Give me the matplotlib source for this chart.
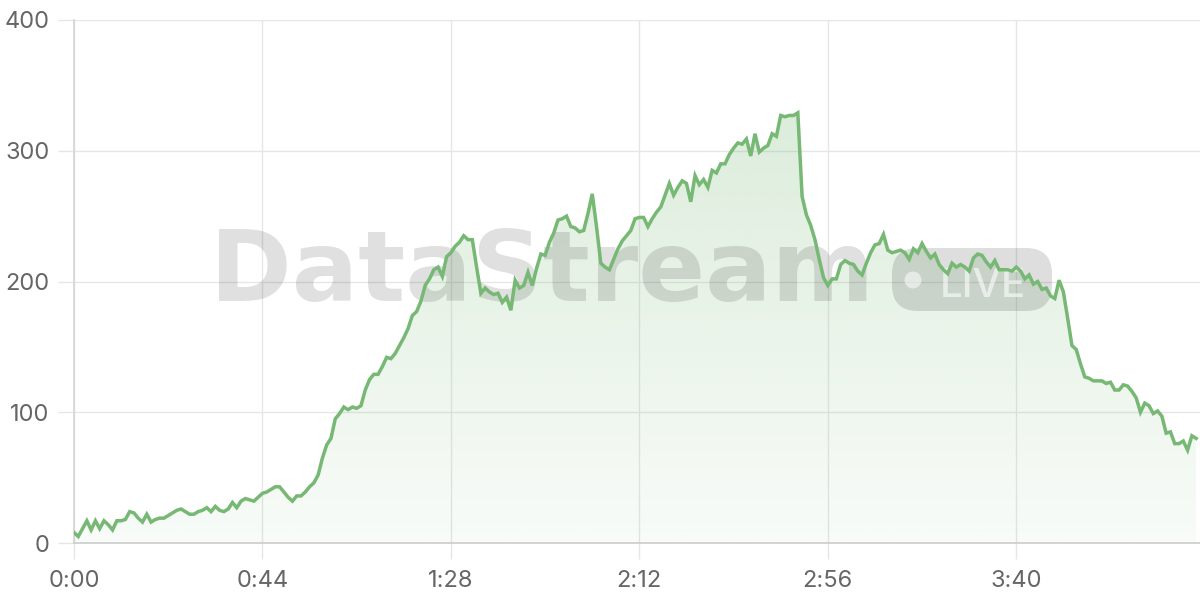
import numpy as np
import matplotlib
matplotlib.use("Agg")
import matplotlib.pyplot as plt
from matplotlib.patches import FancyBboxPatch, Circle
from matplotlib.ticker import FuncFormatter

# ---- data (seconds, value) ----
values = [
    8, 5, 11, 17, 10, 17, 11, 17, 14, 10,
    17, 17, 18, 24, 23, 19, 16, 22, 16, 18,
    19, 19, 21, 23, 25, 26, 24, 22, 22, 24,
    25, 27, 24, 28, 25, 24, 26, 31, 27, 32,
    34, 33, 32, 35, 38, 39, 41, 43, 43, 39,
    35, 32, 36, 36, 39, 43, 46, 52, 65, 75,
    80, 95, 99, 104, 102, 104, 103, 105, 117, 125,
    129, 129, 135, 142, 141, 145, 151, 157, 164, 174,
    177, 185, 197, 202, 209, 211, 204, 219, 222, 227,
    230, 235, 232, 232, 211, 191, 195, 192, 190, 191,
    184, 188, 178, 201, 195, 197, 207, 197, 210, 221,
    220, 230, 237, 247, 248, 250, 242, 241, 238, 239,
    252, 267, 242, 214, 211, 209, 217, 225, 231, 235,
    239, 248, 249, 249, 242, 248, 253, 257, 266, 275,
    266, 272, 277, 275, 261, 281, 274, 278, 272, 285,
    283, 290, 290, 297, 302, 306, 305, 309, 296, 313,
    299, 302, 304, 313, 311, 327, 326, 327, 327, 329,
    265, 251, 243, 232, 217, 203, 197, 202, 202, 213,
    216, 214, 213, 208, 205, 214, 222, 228, 229, 236,
    224, 222, 223, 224, 222, 217, 225, 222, 229, 223,
    218, 221, 213, 209, 206, 214, 211, 213, 211, 208,
    218, 221, 220, 215, 211, 216, 209, 209, 209, 208,
    211, 208, 202, 205, 198, 200, 194, 195, 189, 187,
    201, 192, 172, 151, 148, 137, 127, 126, 124, 124,
    124, 122, 123, 117, 117, 121, 120, 116, 111, 100,
    107, 105, 99, 101, 97, 84, 85, 76, 76, 78,
    71, 82, 80,
]
seconds = list(range(len(values)))
x_ticks = [0, 44, 88, 132, 176, 220]
y_ticks = [0, 100, 200, 300, 400]

LINE = "#76b874"
GRID = "#e6e6e6"
TEXT = "#666666"

plt.rcParams["font.family"] = ["Inter", "DejaVu Sans"]

fig = plt.figure(figsize=(12, 6), dpi=100)
ax = fig.add_axes([74 / 1200, 57 / 600, (1200 - 74) / 1200, (543 - 20) / 600])
ax.set_xlim(0, 262.9)
ax.set_ylim(0, 400)

# gradient fill clipped to area under line
fill = ax.fill_between(seconds, values, 0, color="none", lw=0)
grad = np.zeros((256, 1, 4))
rgb = np.array([118, 184, 116]) / 255.0
grad[:, 0, :3] = rgb
grad[:, 0, 3] = np.linspace(0.05, 0.30, 256)
im = ax.imshow(grad, extent=[0, 262.9, 0, 400], origin="lower", aspect="auto",
               interpolation="bilinear", zorder=1)
im.set_clip_path(fill.get_paths()[0], transform=ax.transData)

ax.plot(seconds, values, color=LINE, lw=2.5, zorder=5, solid_joinstyle="miter")

# axes styling
ax.set_xticks(x_ticks)
ax.set_yticks(y_ticks)
ax.xaxis.set_major_formatter(FuncFormatter(lambda v, p: f"{int(v) // 60}:{int(v) % 60:02d}"))
ax.grid(True, color=GRID, lw=1, zorder=0)
ax.set_axisbelow(True)
for s in ["top", "right"]:
    ax.spines[s].set_visible(False)
ax.spines["left"].set_color("#d4d4d4")
ax.spines["bottom"].set_color("#cccccc")
ax.spines["left"].set_linewidth(1.2)
ax.spines["bottom"].set_linewidth(1.2)
ax.tick_params(axis="both", direction="out", length=11.5, width=1, color=GRID,
               labelcolor=TEXT, labelsize=17)
ax.tick_params(axis="y", pad=6)
ax.tick_params(axis="x", pad=8)

# watermark
tr = fig.dpi_scale_trans
WM = (0.0, 0.0, 0.0)
wm = ax.text(2.10, 2.99, "DataStream", transform=tr, ha="left", va="baseline",
             fontsize=70, fontweight="bold", family=["DejaVu Sans"],
             color=WM, alpha=0.12, zorder=3, clip_on=False)
pill = FancyBboxPatch((8.92, 2.89), 1.60, 0.63,
                      boxstyle="round,pad=0,rounding_size=0.26",
                      transform=tr, facecolor=WM, alpha=0.13,
                      edgecolor="none", zorder=3, clip_on=False)
ax.add_patch(pill)
dot = Circle((9.13, 3.20), 0.085, transform=tr, facecolor="white", alpha=0.55,
             edgecolor="none", zorder=3.5, clip_on=False)
ax.add_patch(dot)
live = ax.text(9.40, 3.03, "LIVE", transform=tr, ha="left", va="baseline",
               fontsize=30, fontweight="medium", family=["Inter", "DejaVu Sans"],
               color="white", alpha=0.6, zorder=3.5, clip_on=False)

fig.canvas.draw()
r = fig.canvas.get_renderer()
for t, target in ((wm, 664.0), (live, 86.0)):
    w = t.get_window_extent(r).width
    t.set_fontsize(t.get_fontsize() * target / w)

fig.savefig("out.png", dpi=100)
